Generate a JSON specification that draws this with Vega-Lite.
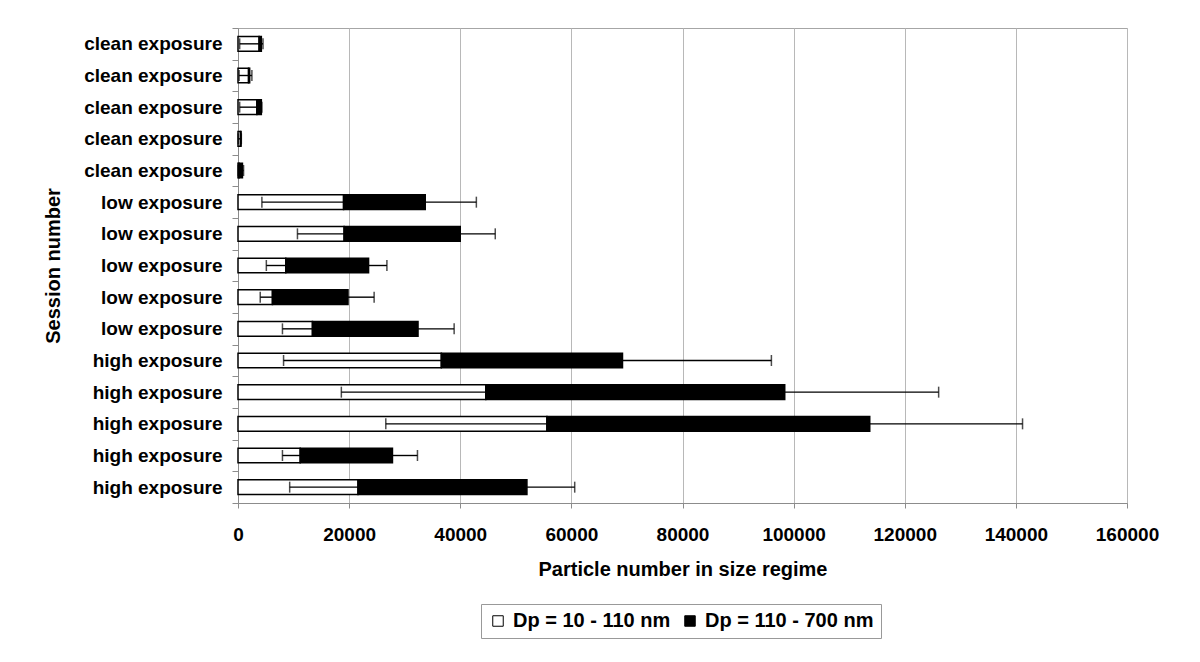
{
  "$schema": "https://vega.github.io/schema/vega-lite/v6.json",
  "width": 889,
  "height": 475,
  "autosize": {"type": "none"},
  "padding": {"left": 238, "top": 28, "right": 73, "bottom": 159},
  "background": "white",
  "config": {
    "view": {"stroke": "#a6a6a6", "strokeWidth": 1},
    "font": "Liberation Sans"
  },
  "data": {
    "values": [
      {"id": "c1", "fine": 3800, "fineLow": 300, "total": 4200, "high": 4500},
      {"id": "c2", "fine": 1900, "fineLow": 200, "total": 2100, "high": 2500},
      {"id": "c3", "fine": 3400, "fineLow": 300, "total": 4200, "high": 4300},
      {"id": "c4", "fine": 450, "fineLow": 50, "total": 550, "high": 600},
      {"id": "c5", "fine": 200, "fineLow": 50, "total": 800, "high": 1000},
      {"id": "l1", "fine": 19000, "fineLow": 4300, "total": 33700, "high": 42900},
      {"id": "l2", "fine": 19100, "fineLow": 10700, "total": 40000, "high": 46300},
      {"id": "l3", "fine": 8600, "fineLow": 5100, "total": 23500, "high": 26800},
      {"id": "l4", "fine": 6200, "fineLow": 4000, "total": 19800, "high": 24500},
      {"id": "l5", "fine": 13400, "fineLow": 8000, "total": 32400, "high": 38900},
      {"id": "h1", "fine": 36600, "fineLow": 8200, "total": 69200, "high": 96000},
      {"id": "h2", "fine": 44600, "fineLow": 18600, "total": 98400, "high": 126100},
      {"id": "h3", "fine": 55600, "fineLow": 26600, "total": 113700, "high": 141200},
      {"id": "h4", "fine": 11200, "fineLow": 8000, "total": 27800, "high": 32300},
      {"id": "h5", "fine": 21600, "fineLow": 9300, "total": 52000, "high": 60600}
    ]
  },
  "layer": [
    {
      "mark": {"type": "bar", "stroke": "black", "strokeWidth": 1.5, "size": 14.6},
      "encoding": {
        "y": {
          "field": "id",
          "type": "nominal",
          "sort": null,
          "scale": {"paddingInner": 0, "paddingOuter": 0},
          "axis": {
            "orient": "left",
            "title": "Session number",
            "titleFontSize": 20,
            "titleFontWeight": "bold",
            "titleColor": "black",
            "titlePadding": 20,
            "labelFontSize": 19,
            "labelFontWeight": "bold",
            "labelColor": "black",
            "labelPadding": 10,
            "labelExpr": "!isString(datum.value) ? '' : indexof(datum.value, 'c') == 0 ? 'clean exposure' : indexof(datum.value, 'l') == 0 ? 'low exposure' : 'high exposure'",
            "tickBand": "extent",
            "tickSize": 6,
            "tickColor": "#8c8c8c",
            "domainColor": "#8c8c8c",
            "grid": false
          }
        },
        "x": {
          "field": "fine",
          "type": "quantitative",
          "scale": {"domain": [0, 160000], "nice": false},
          "axis": {
            "orient": "bottom",
            "values": [0, 20000, 40000, 60000, 80000, 100000, 120000, 140000, 160000],
            "title": "Particle number in size regime",
            "titleFontSize": 20,
            "titleFontWeight": "bold",
            "titleColor": "black",
            "titlePadding": 15,
            "labelFontSize": 19,
            "labelFontWeight": "bold",
            "labelColor": "black",
            "labelPadding": 17,
            "labelFlush": false,
            "format": "d",
            "tickSize": 5,
            "tickColor": "#8c8c8c",
            "domainColor": "#8c8c8c",
            "grid": true,
            "gridColor": "#b8b8b8"
          }
        },
        "color": {
          "datum": "Dp = 10 - 110 nm",
          "type": "nominal",
          "scale": {"domain": ["Dp = 10 - 110 nm", "Dp = 110 - 700 nm"], "range": ["white", "black"]},
          "legend": {
            "title": null,
            "orient": "none",
            "legendX": 243,
            "legendY": 576,
            "direction": "horizontal",
            "labelFontSize": 20,
            "labelFontWeight": "bold",
            "labelColor": "black",
            "labelLimit": 400,
            "strokeColor": "#999999",
            "padding": 7,
            "symbolType": "square",
            "symbolSize": 110,
            "symbolStrokeColor": "black",
            "symbolStrokeWidth": 1,
            "columnPadding": 9,
            "labelOffset": 5
          }
        }
      }
    },
    {
      "mark": {"type": "bar", "stroke": "black", "strokeWidth": 1.5, "size": 14.6},
      "encoding": {
        "y": {"field": "id", "type": "nominal", "sort": null},
        "x": {"field": "fine", "type": "quantitative"},
        "x2": {"field": "total"},
        "color": {"datum": "Dp = 110 - 700 nm", "type": "nominal"}
      }
    },
    {
      "mark": {"type": "rule", "color": "black", "strokeWidth": 1.4},
      "encoding": {
        "y": {"field": "id", "type": "nominal", "sort": null},
        "x": {"field": "fineLow", "type": "quantitative"},
        "x2": {"field": "fine"}
      }
    },
    {
      "mark": {"type": "tick", "color": "black", "size": 11, "thickness": 1.5},
      "encoding": {
        "y": {"field": "id", "type": "nominal", "sort": null},
        "x": {"field": "fineLow", "type": "quantitative"}
      }
    },
    {
      "mark": {"type": "rule", "color": "black", "strokeWidth": 1.4},
      "encoding": {
        "y": {"field": "id", "type": "nominal", "sort": null},
        "x": {"field": "total", "type": "quantitative"},
        "x2": {"field": "high"}
      }
    },
    {
      "mark": {"type": "tick", "color": "black", "size": 11, "thickness": 1.5},
      "encoding": {
        "y": {"field": "id", "type": "nominal", "sort": null},
        "x": {"field": "high", "type": "quantitative"}
      }
    }
  ]
}
